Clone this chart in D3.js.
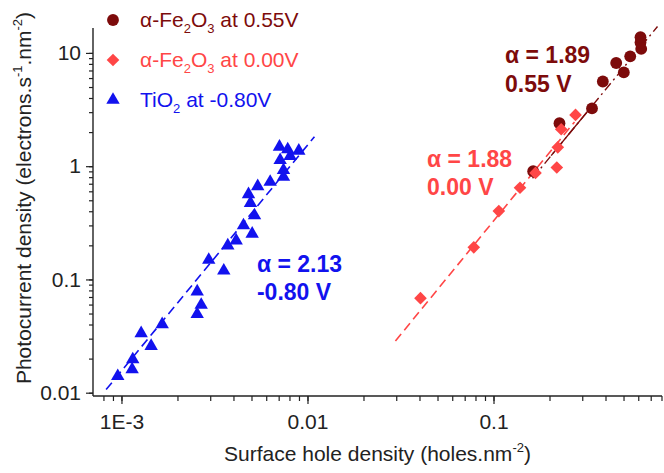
<!DOCTYPE html>
<html><head><meta charset="utf-8">
<script src="https://cdn.jsdelivr.net/npm/d3@7"></script>
<style>
html,body{margin:0;padding:0;background:#fff;}
svg text{font-family:"Liberation Sans",Arial,Helvetica,sans-serif;}
</style>
</head><body>
<svg id="chart" width="664" height="473"></svg>
<script>
// ---- data ----
const feHighX = [0.1634,0.2263,0.3385,0.3870,0.4566,0.5017,0.5431,0.6223,0.6169,0.6169];
const feHighY = [0.903,2.393,3.237,5.598,8.152,6.729,9.330,10.85,12.34,13.75];
const feZeroX = [0.0405,0.07834,0.1068,0.1388,0.1682,0.2189,0.2216,0.2312,0.2760];
const feZeroY = [0.06839,0.1922,0.4012,0.6446,0.8719,0.9739,1.466,2.117,2.835];
const tiX = [9.55e-4,1.141e-3,1.150e-3,1.276e-3,1.444e-3,1.655e-3,2.553e-3,2.683e-3,2.553e-3,2.946e-3,3.548e-3,3.728e-3,4.136e-3,4.528e-3,5.043e-3,5.19e-3,4.938e-3,4.818e-3,5.40e-3,6.30e-3,7.43e-3,7.43e-3,7.13e-3,7.07e-3,7.83e-3,8.07e-3,8.98e-3];
const tiY = [0.01398,0.01603,0.01966,0.03344,0.0258,0.0402,0.0493,0.0596,0.0782,0.1486,0.1195,0.199,0.2205,0.2996,0.2529,0.3675,0.4724,0.5643,0.6646,0.7256,0.8036,0.9215,1.130,1.483,1.407,1.227,1.367];
// fitted lines (end points)
const fitTiX = [8.27e-4, 0.0109];
const fitTiY = [0.01065, 1.82];
const fitZeroX = [0.0297, 0.2726];
const fitZeroY = [0.0286, 2.46];
const fitHighX = [0.1621, 0.7614];
const fitHighY = [0.7825, 17.12];
const fitHighSolidX = [0.2042, 0.3385];
// ticks
const xTickVals = [1e-3, 1e-2, 1e-1];
const xTickLabels = ["1E-3", "0.01", "0.1"];
const yTickVals = [0.01, 0.1, 1, 10];
const yTickLabels = ["0.01", "0.1", "1", "10"];
const legendLabels = [
  [["α-Fe",""],["2","sub"],["O",""],["3","sub"],[" at 0.55V",""]],
  [["α-Fe",""],["2","sub"],["O",""],["3","sub"],[" at 0.00V",""]],
  [["TiO",""],["2","sub"],[" at -0.80V",""]]
];
const annotations = [
  {lines:["α = 1.89","0.55 V"], x:0.1153, y:8.10, cls:0},
  {lines:["α = 1.88","0.00 V"], x:0.0439, y:0.99, cls:1},
  {lines:["α = 2.13","-0.80 V"], x:5.35e-3, y:0.1164, cls:2}
];

const colors = ["#7d0b0b", "#ff4646", "#1212ee"];

const W = 664, H = 473;
const m = {left:93, right:2, top:28, bottom:77};
const svg = d3.select("#chart");
const x = d3.scaleLog().domain([7.03e-4, 0.805]).range([m.left, W - m.right]);
const y = d3.scaleLog().domain([0.00935, 16.6]).range([H - m.bottom, m.top]);

// minor ticks
function minors(dom){
  const out=[];
  for(let e=-4;e<=2;e++){for(let k=1;k<=9;k++){const v=k*Math.pow(10,e);if(v>=dom[0]*0.999&&v<=dom[1]*1.001)out.push(v);}}
  return out;
}
const xAxis = svg.append("g").attr("transform",`translate(0,${H-m.bottom})`);
xAxis.call(d3.axisBottom(x).tickValues(minors(x.domain())).tickSize(5).tickFormat(""));
xAxis.call(g=>g.select(".domain").remove());
const xMaj = svg.append("g").attr("transform",`translate(0,${H-m.bottom})`)
  .call(d3.axisBottom(x).tickValues(xTickVals).tickSize(8).tickPadding(10).tickFormat((d,i)=>xTickLabels[i]));
xMaj.select(".domain").attr("d",`M${m.left},0H${W-m.right}`);

const yAxis = svg.append("g").attr("transform",`translate(${m.left},0)`);
yAxis.call(d3.axisLeft(y).tickValues(minors(y.domain())).tickSize(4).tickFormat(""));
yAxis.call(g=>g.select(".domain").remove());
const yMaj = svg.append("g").attr("transform",`translate(${m.left},0)`)
  .call(d3.axisLeft(y).tickValues(yTickVals).tickSize(7).tickPadding(5).tickFormat((d,i)=>yTickLabels[i]));
yMaj.select(".domain").attr("d",`M0,${m.top}V${H-m.bottom}`);

svg.selectAll(".tick line").attr("stroke","#222").attr("stroke-width",1.2);
svg.selectAll(".domain").attr("stroke","#222").attr("stroke-width",1.4);
svg.selectAll(".tick text").attr("font-size",21).attr("fill","#222")
   .attr("font-family","Liberation Sans, Arial, sans-serif");

// axis titles
const xt = svg.append("text").attr("x",(m.left+W-m.right)/2).attr("y",461)
  .attr("text-anchor","middle").attr("font-size",21).attr("fill","#222");
xt.append("tspan").text("Surface hole density (holes.nm");
xt.append("tspan").text("-2").attr("font-size",13).attr("dy",-9);
xt.append("tspan").text(")").attr("dy",9);

const yt = svg.append("text").attr("transform",`translate(31,${(m.top+H-m.bottom)/2 - 14}) rotate(-90)`)
  .attr("text-anchor","middle").attr("font-size",21).attr("fill","#222");
yt.append("tspan").text("Photocurrent density (electrons.s");
yt.append("tspan").text("-1").attr("font-size",13).attr("dy",-9);
yt.append("tspan").text(".nm").attr("dy",9);
yt.append("tspan").text("-2").attr("font-size",13).attr("dy",-9);
yt.append("tspan").text(")").attr("dy",9);

// fit lines
const line = d3.line().x(d=>x(d[0])).y(d=>y(d[1]));
svg.append("path").datum(d3.zip(fitTiX,fitTiY)).attr("d",line)
  .attr("stroke",colors[2]).attr("stroke-width",1.6).attr("stroke-dasharray","9,5").attr("fill","none");
svg.append("path").datum(d3.zip(fitZeroX,fitZeroY)).attr("d",line)
  .attr("stroke",colors[1]).attr("stroke-width",1.6).attr("stroke-dasharray","9,5").attr("fill","none");
const logSlope = (Math.log10(fitHighY[1])-Math.log10(fitHighY[0]))/(Math.log10(fitHighX[1])-Math.log10(fitHighX[0]));
const highAt = v => fitHighY[0]*Math.pow(v/fitHighX[0], logSlope);
svg.append("path").datum(d3.zip(fitHighX,fitHighY)).attr("d",line)
  .attr("stroke",colors[0]).attr("stroke-width",1.4).attr("stroke-dasharray","9,4,2,4").attr("fill","none");
svg.append("path").datum(fitHighSolidX.map(v=>[v,highAt(v)])).attr("d",line)
  .attr("stroke",colors[0]).attr("stroke-width",1.4).attr("fill","none");

// markers
const symCircle = d3.symbol().type(d3.symbolCircle).size(110)();
const symDiamond = d3.symbol().type(d3.symbolSquare).size(80)();
const symTri = d3.symbol().type(d3.symbolTriangle).size(78)();
svg.append("g").selectAll("path").data(d3.zip(tiX,tiY)).join("path")
  .attr("d",symTri).attr("fill",colors[2])
  .attr("transform",d=>`translate(${x(d[0])},${y(d[1])})`);
svg.append("g").selectAll("path").data(d3.zip(feHighX,feHighY)).join("path")
  .attr("d",symCircle).attr("fill",colors[0])
  .attr("transform",d=>`translate(${x(d[0])},${y(d[1])})`);
svg.append("g").selectAll("path").data(d3.zip(feZeroX,feZeroY)).join("path")
  .attr("d",symDiamond).attr("fill",colors[1])
  .attr("transform",d=>`translate(${x(d[0])},${y(d[1])}) rotate(45)`);

// annotations
annotations.forEach(a=>{
  a.lines.forEach((t,i)=>{
    svg.append("text").attr("x",x(a.x)).attr("y",y(a.y)+i*28.5)
      .attr("font-size",23).attr("font-weight","bold").attr("fill",colors[a.cls]).text(t);
  });
});

// legend
const legSyms = [symCircle, symDiamond, symTri];
const lg = svg.append("g");
legendLabels.forEach((parts,i)=>{
  const cy = 20 + i*40;
  lg.append("path").attr("d",legSyms[i]).attr("fill",colors[i])
    .attr("transform",`translate(113,${cy})`+(i===1?" rotate(45)":""));
  const t = lg.append("text").attr("x",140).attr("y",cy+7).attr("font-size",21).attr("fill",colors[i]);
  let shifted=false;
  parts.forEach(([s,k])=>{
    const ts=t.append("tspan").text(s);
    if(k==="sub"){ts.attr("font-size",13).attr("dy",shifted?0:6);shifted=true;}
    else{ if(shifted){ts.attr("dy",-6);shifted=false;} }
  });
});
</script>
</body></html>
